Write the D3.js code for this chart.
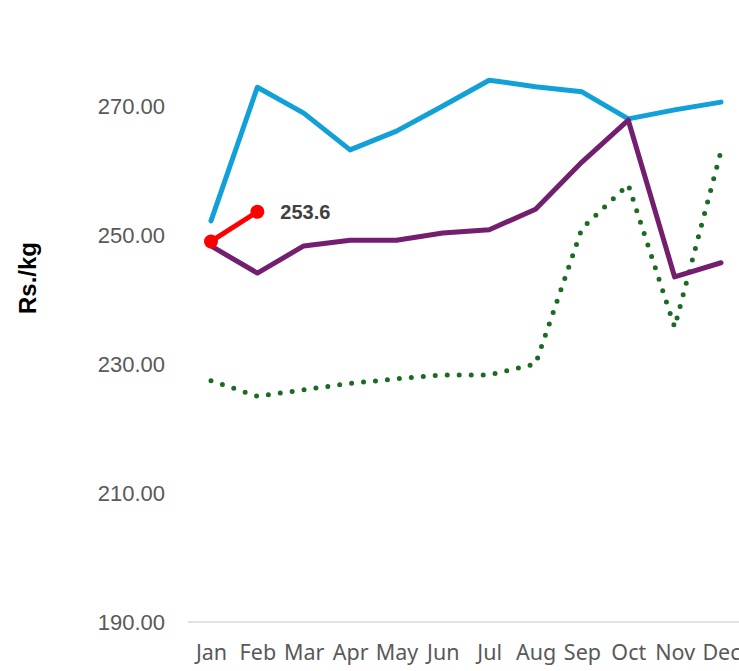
<!DOCTYPE html>
<html>
<head>
<meta charset="utf-8">
<script src="https://unpkg.com/d3@7/dist/d3.min.js"></script>
<style>
  body { margin: 0; background: #fff; }
  svg { display: block; }
</style>
</head>
<body>
<div id="chart"></div>
<script>
// months on the x axis
var months = ["Jan", "Feb", "Mar", "Apr", "May", "Jun", "Jul", "Aug", "Sep", "Oct", "Nov", "Dec"];

// series values (Rs./kg)
var blueSeries = [252.2, 272.9, 268.9, 263.2, 266.1, 270.0, 274.0, 273.0, 272.2, 268.0, 269.4, 270.6];
var purpleSeries = [248.3, 244.1, 248.3, 249.2, 249.2, 250.3, 250.8, 254.0, 261.3, 267.8, 243.5, 245.7];
var greenSeries = [227.4, 225.0, 226.0, 227.0, 227.7, 228.3, 228.3, 230.0, 251.0, 257.8, 235.7, 263.0];
var redSeries = [249.0, 253.6];

var yTicks = [190, 210, 230, 250, 270];

var width = 739,
  height = 671;

var svg = d3
  .select("#chart")
  .append("svg")
  .attr("width", width)
  .attr("height", height);

// scales
var x = d3.scalePoint().domain(months).range([211, 721]);
var y = d3.scaleLinear().domain([190, 270]).range([622, 106]);

// y tick labels (no axis line)
var yAxis = d3.axisLeft(y).tickValues(yTicks).tickFormat(d3.format(".2f")).tickSize(0).tickPadding(0);
var gy = svg.append("g").attr("transform", "translate(165,0)").call(yAxis);
gy.select(".domain").remove();
gy.selectAll("text")
  .attr("fill", "#595959")
  .attr("font-family", "Liberation Sans, Arial, sans-serif")
  .attr("font-size", "22px");

// baseline
svg.append("line")
  .attr("x1", 188)
  .attr("x2", width)
  .attr("y1", y(190))
  .attr("y2", y(190))
  .attr("stroke", "#d9d9d9")
  .attr("stroke-width", 1.5);

// x labels
var xAxis = d3.axisBottom(x).tickSize(0).tickPadding(0);
var gx = svg.append("g").attr("transform", "translate(0,645)").call(xAxis);
gx.select(".domain").remove();
gx.selectAll("text")
  .attr("fill", "#595959")
  .attr("font-family", "Noto Sans, sans-serif")
  .attr("font-size", "21.5px")
  .attr("dy", "0.71em");

// y axis title
svg.append("text")
  .attr("transform", "translate(36,278) rotate(-90)")
  .attr("text-anchor", "middle")
  .attr("font-family", "Liberation Sans, Arial, sans-serif")
  .attr("font-weight", "bold")
  .attr("font-size", "24px")
  .attr("fill", "#000")
  .text("Rs./kg");

var line = d3
  .line()
  .x(function (d, i) { return x(months[i]); })
  .y(function (d) { return y(d); });

// green dotted series
svg.append("path")
  .datum(greenSeries)
  .attr("fill", "none")
  .attr("stroke", "#1b6b23")
  .attr("stroke-width", 5)
  .attr("stroke-linecap", "round")
  .attr("stroke-dasharray", "0 12")
  .attr("d", line);

// blue series
svg.append("path")
  .datum(blueSeries)
  .attr("fill", "none")
  .attr("stroke", "#11a0d7")
  .attr("stroke-width", 5)
  .attr("stroke-linecap", "round")
  .attr("stroke-linejoin", "round")
  .attr("d", line);

// purple series
svg.append("path")
  .datum(purpleSeries)
  .attr("fill", "none")
  .attr("stroke", "#741e6e")
  .attr("stroke-width", 5)
  .attr("stroke-linecap", "round")
  .attr("stroke-linejoin", "round")
  .attr("d", line);

// red series with markers
svg.append("path")
  .datum(redSeries)
  .attr("fill", "none")
  .attr("stroke", "#ff0000")
  .attr("stroke-width", 5)
  .attr("d", line);

svg.selectAll(".redDot")
  .data(redSeries)
  .join("circle")
  .attr("class", "redDot")
  .attr("cx", function (d, i) { return x(months[i]); })
  .attr("cy", function (d) { return y(d); })
  .attr("r", 7)
  .attr("fill", "#ff0000");

// data label for the last red point
svg.append("text")
  .attr("x", x(months[redSeries.length - 1]) + 23)
  .attr("y", y(redSeries[redSeries.length - 1]))
  .attr("dy", "0.36em")
  .attr("font-family", "Liberation Sans, Arial, sans-serif")
  .attr("font-weight", "bold")
  .attr("font-size", "20px")
  .attr("fill", "#404040")
  .text(redSeries[redSeries.length - 1].toFixed(1));
</script>
</body>
</html>
